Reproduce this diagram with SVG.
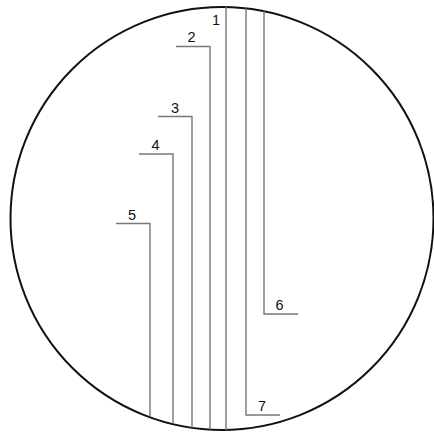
<svg xmlns="http://www.w3.org/2000/svg" width="434" height="433" viewBox="0 0 434 433">
<style>
.c{fill:none;stroke:#111;stroke-width:2}
.l{fill:none;stroke:#777;stroke-width:1.4}
.t{font-family:"Liberation Sans",Arial,sans-serif;font-size:14.5px;fill:#111;text-anchor:middle}
</style>
<rect width="434" height="433" fill="#fff"/>
<g id="outline"><circle class="c" cx="222" cy="218.5" r="211.5"/></g>
<g id="connectors">
<polyline class="l" points="226,7 226,430"/>
<polyline class="l" points="176,46.5 210,46.5 210,429.5"/>
<polyline class="l" points="158,116.5 192,116.5 192,427.5"/>
<polyline class="l" points="139,154 173,154 173,423.5"/>
<polyline class="l" points="116,223.5 150,223.5 150,416.5"/>
<polyline class="l" points="264,11 264,314 298,314"/>
<polyline class="l" points="246,8.5 246,415 280,415"/>
</g>
<g id="label1"><text class="t" x="216" y="25">1</text></g>
<g id="label2"><text class="t" x="191.5" y="42">2</text></g>
<g id="label3"><text class="t" x="175" y="112.5">3</text></g>
<g id="label4"><text class="t" x="155.5" y="150">4</text></g>
<g id="label5"><text class="t" x="132" y="219.5">5</text></g>
<g id="label6"><text class="t" x="279.5" y="310">6</text></g>
<g id="label7"><text class="t" x="262" y="410.5">7</text></g>
</svg>
